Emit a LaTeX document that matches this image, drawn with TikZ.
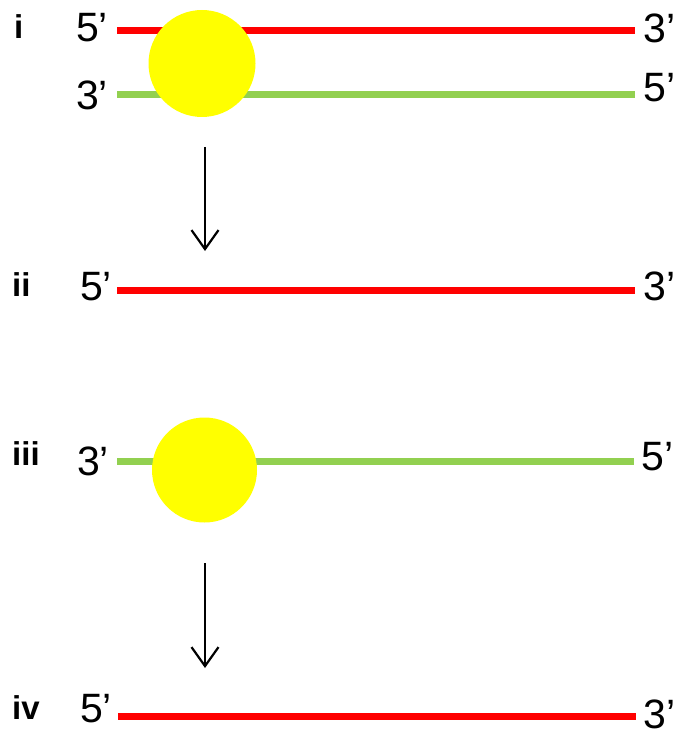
\documentclass[tikz,border=0pt]{standalone}
\usepackage{fontspec}
\setmainfont{Liberation Sans}
\usetikzlibrary{arrows.meta}
\definecolor{strandred}{HTML}{FF0000}
\definecolor{strandgreen}{HTML}{92D050}
\definecolor{ballyellow}{HTML}{FFFF00}
\tikzset{
  redstrand/.style={draw=strandred, line width=7pt},
  greenstrand/.style={draw=strandgreen, line width=7pt},
  ball/.style={circle, fill=ballyellow, draw=none, inner sep=0pt},
  endlabel/.style={anchor=base west, inner sep=0pt, font=\fontsize{41}{48}\selectfont},
  steplabel/.style={anchor=base west, inner sep=0pt, font=\fontsize{33}{40}\selectfont\bfseries},
  flowarrow/.style={draw=black, line width=2.2pt, -{Straight Barb[length=19pt, width=27pt, line width=2.2pt]}}
}
\begin{document}
\begin{tikzpicture}[x=1pt, y=-1pt]
\useasboundingbox (0,0) rectangle (682,738);
% row i
\coordinate (r1a) at (117,30.5);
\coordinate (r1b) at (635,30.5);
\coordinate (g1a) at (117,95);
\coordinate (g1b) at (635,95);
\draw[redstrand] (r1a) -- (r1b);
\draw[greenstrand] (g1a) -- (g1b);
\node[ball, minimum size=107pt] (b1) at (202,63.5) {};
\node[steplabel] (li) at (14,39) {i};
\node[endlabel] (t1a) at (76,42) {5’};
\node[endlabel] (t1b) at (643,43) {3’};
\node[endlabel] (t1c) at (76,110) {3’};
\node[endlabel] (t1d) at (643,102) {5’};
% arrow 1
\coordinate (a1s) at (205,147);
\coordinate (a1e) at (205,251);
\draw[flowarrow] (a1s) -- (a1e);
% row ii
\coordinate (r2a) at (117,290);
\coordinate (r2b) at (635,290);
\draw[redstrand] (r2a) -- (r2b);
\node[steplabel] (lii) at (12,296) {ii};
\node[endlabel] (t2a) at (80,300) {5’};
\node[endlabel] (t2b) at (643,300) {3’};
% row iii
\coordinate (g3a) at (117,461.5);
\coordinate (g3b) at (634,461.5);
\draw[greenstrand] (g3a) -- (g3b);
\node[ball, minimum size=105pt] (b3) at (204.5,470) {};
\node[steplabel] (liii) at (12,465) {iii};
\node[endlabel] (t3a) at (77,475) {3’};
\node[endlabel] (t3b) at (641,470) {5’};
% arrow 2
\coordinate (a2s) at (205,563);
\coordinate (a2e) at (205,668);
\draw[flowarrow] (a2s) -- (a2e);
% row iv
\coordinate (r4a) at (118,716.5);
\coordinate (r4b) at (636,716.5);
\draw[redstrand] (r4a) -- (r4b);
\node[steplabel] (liv) at (12,719) {iv};
\node[endlabel] (t4a) at (80,722) {5’};
\node[endlabel] (t4b) at (643,728) {3’};
\end{tikzpicture}
\end{document}
